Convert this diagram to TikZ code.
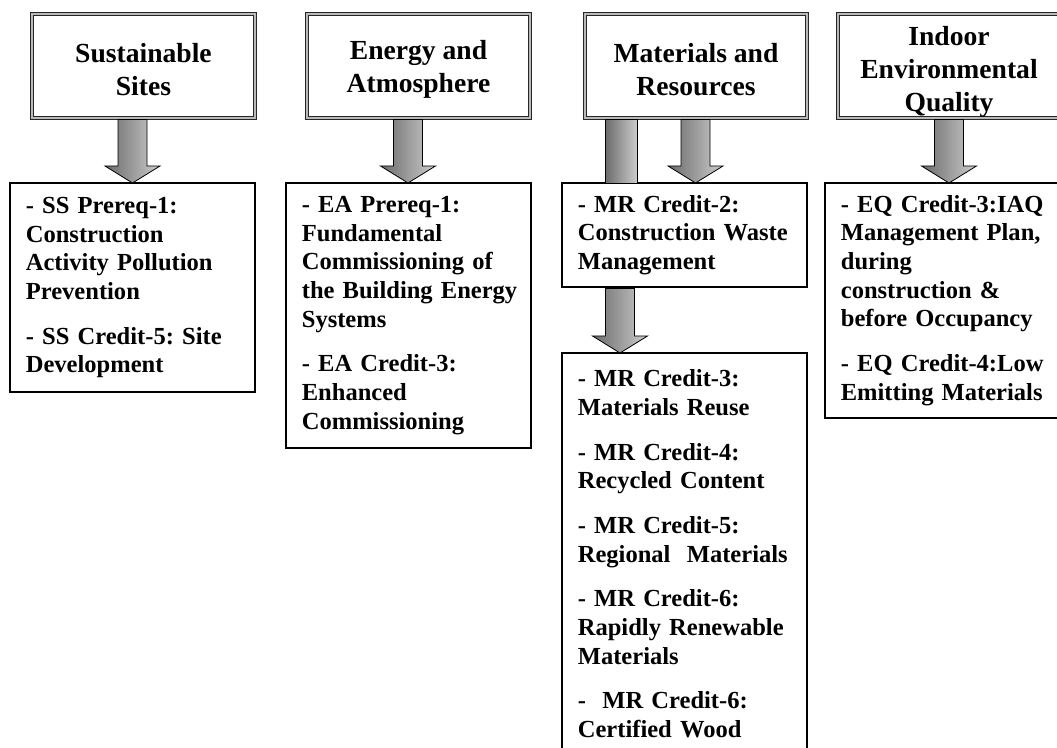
\documentclass[tikz,border=0pt]{standalone}
\usepackage{fontspec}
\setmainfont{Liberation Serif}
\usetikzlibrary{calc,positioning}
\definecolor{arrowdark}{gray}{0.42}
\definecolor{arrowlight}{gray}{0.80}
\newcommand{\headstrut}[1][20pt]{\rule{0pt}{#1}}

\begin{document}
\begin{tikzpicture}[x=0.75pt,y=-0.75pt]

	\tikzset{head box/.style={
				draw=black!85,
				line width=0.7pt,
				double=gray!55,
				double distance=1.4pt,
				minimum width=167pt,
				minimum height=78pt,
				outer sep=0pt,
				align=center,
				font=\fontsize{20.7}{24.8}\selectfont\bfseries
			},
		item box/.style={
				draw=black,
				line width=0.9pt,
				fill=white,
				anchor=north west,
				text width=160pt,
				inner xsep=11.9pt,
				minimum height=#1,
				outer sep=0pt,
				align=left,
				font=\fontsize{18.4}{21.5}\selectfont\bfseries\frenchspacing
			},
		fat arrow/.style={
				draw=black,
				line width=0.6pt,
				left color=arrowdark,
				right color=arrowlight
			}
	}

	\path[use as bounding box,clip] (0,0) rectangle (1057,748);

	\node[head box] (hss) at (143.5,66) {\headstrut Sustainable\\Sites};
	\node[head box] (hea) at (418.5,66) {\headstrut Energy and\\Atmosphere};
	\node[head box] (hmr) at (696,66) {\headstrut Materials and\\Resources};
	\node[head box,inner ysep=0pt] (heq) at (949,66) {\headstrut[23.5pt]Indoor\\Environmental\\Quality};

	\node[item box=156.75pt] (bss) at (10,183) {- SS Prereq-1:\\Construction\\Activity Pollution\\Prevention\\[12pt]- SS Credit-5: Site\\Development};
	\node[item box=198.75pt] (bea) at (286,183) {- EA Prereq-1:\\Fundamental\\Commissioning of\\\mbox{the Building Energy}\\Systems\\[12pt]- EA Credit-3:\\Enhanced\\Commissioning};
	\node[item box=78pt] (bmr1) at (562,183) {- MR Credit-2:\\\mbox{Construction Waste}\\Management};
	\node[item box=301.5pt] (bmr2) at (562,353) {- MR Credit-3:\\Materials Reuse\\[12pt]- MR Credit-4:\\Recycled Content\\[12pt]- MR Credit-5:\\Regional\ \ Materials\\[12pt]- MR Credit-6:\\\mbox{Rapidly Renewable}\\Materials\\[12pt]-\ \ MR Credit-6:\\Certified Wood};
	\node[item box=176.25pt] (beq) at (825,183) {- EQ Credit-3:IAQ\\\mbox{Management Plan,}\\during\\construction \&\\\mbox{before Occupancy}\\[12pt]- EQ Credit-4:Low\\\mbox{Emitting Materials}};

	\foreach \n/\x/\from/\to in {a/132.5/hss/bss, b/408/hea/bea, c/695.5/hmr/bmr1, d/949/heq/beq, e/620/bmr1/bmr2} {
			\coordinate (x\n) at (\x,0);
			\coordinate (s\n) at ($(x\n |- \from.south)+(0,1.5)$);
			\coordinate (t\n) at (x\n |- \to.north);
			\draw[fat arrow] ($(s\n)+(-14.5,0)$) -- ($(t\n)+(-14.5,-17)$) -- ($(t\n)+(-27.5,-17)$) -- (t\n) -- ($(t\n)+(27.5,-17)$) -- ($(t\n)+(14.5,-17)$) -- ($(s\n)+(14.5,0)$) -- cycle;
		}

	\coordinate (xf) at (621,0);
	\draw[fat arrow] ($(xf |- hmr.south)+(-16,1.5)$) rectangle ($(xf |- bmr1.north)+(16,0)$);
\end{tikzpicture}
\end{document}
